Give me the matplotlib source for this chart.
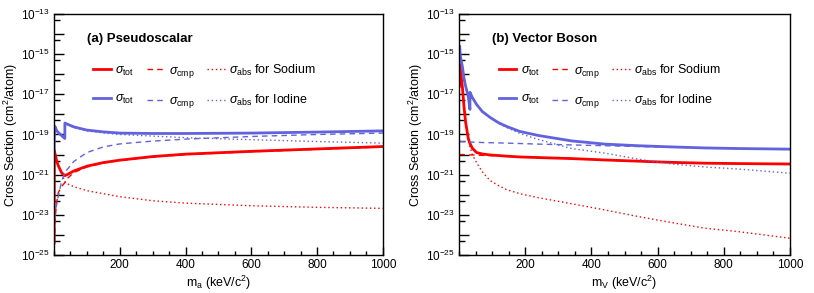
import numpy as np
import matplotlib
matplotlib.use("Agg")
import matplotlib.pyplot as plt
from matplotlib.ticker import FixedLocator, FixedFormatter, MultipleLocator

plt.rcParams['font.family'] = ['Liberation Sans', 'DejaVu Sans']
plt.rcParams['mathtext.fontset'] = 'custom'
plt.rcParams['mathtext.rm'] = 'Liberation Sans'
plt.rcParams['mathtext.it'] = 'Liberation Sans:italic'
plt.rcParams['mathtext.bf'] = 'Liberation Sans:bold'

RED = '#ff0000'
BLUE = '#6262de'

# ---- (a) pseudoscalar : masses (keV) and log10 of cross sections (cm^2/atom)
m_a = [0.5, 1, 3, 8, 13, 23, 33, 33.2, 40, 60, 100, 150, 200, 300, 400, 600, 800, 1000]
na_tot_a = [-24.4, -19.8, -19.95, -20.3, -20.55, -20.9, -21.05, -21.05, -21.0, -20.82, -20.58, -20.4, -20.28, -20.1, -19.98, -19.84, -19.72, -19.6]
na_cmp_a = [-24.9, -24.6, -23.3, -22.4, -21.9, -21.6, -21.4, -21.4, -21.2, -20.9, -20.62, -20.42, -20.3, -20.12, -20.0, -19.86, -19.74, -19.62]
na_abs_a = [-24.4, -19.8, -19.95, -20.3, -20.55, -20.9, -21.35, -21.35, -21.45, -21.6, -21.8, -21.95, -22.1, -22.3, -22.42, -22.55, -22.63, -22.68]
i_tot_a = [-19.8, -19.1, -18.6, -18.8, -18.9, -19.05, -19.2, -18.43, -18.48, -18.62, -18.78, -18.87, -18.93, -18.95, -18.95, -18.93, -18.88, -18.82]
i_cmp_a = [-24.1, -23.5, -22.9, -22.5, -22.1, -21.35, -20.9, -20.9, -20.75, -20.35, -19.9, -19.62, -19.47, -19.33, -19.23, -19.1, -19.0, -18.93]
i_abs_a = [-19.8, -19.1, -18.6, -18.8, -18.9, -19.06, -19.22, -18.45, -18.5, -18.65, -18.82, -18.92, -19.0, -19.08, -19.16, -19.26, -19.35, -19.43]

# ---- (b) vector boson
m_v = [1, 2, 4, 10, 15, 20, 28, 33, 33.2, 40, 53, 70, 94, 120, 144, 184, 240, 340, 441, 542, 643, 743, 844, 1000]
na_tot_v = [-16.6, -15.5, -15.7, -16.6, -17.6, -18.4, -19.2, -19.45, -19.45, -19.68, -19.9, -19.97, -20.02, -20.05, -20.08, -20.12, -20.15, -20.2, -20.27, -20.33, -20.39, -20.43, -20.45, -20.47]
na_cmp_v = [-20.0, -20.0, -20.0, -20.0, -20.0, -20.01, -20.01, -20.02, -20.02, -20.02, -20.03, -20.04, -20.05, -20.07, -20.08, -20.12, -20.15, -20.2, -20.27, -20.33, -20.39, -20.43, -20.45, -20.47]
na_abs_v = [-16.6, -15.5, -15.7, -16.6, -17.6, -18.4, -19.25, -19.6, -19.6, -20.0, -20.4, -20.85, -21.3, -21.55, -21.75, -21.95, -22.15, -22.45, -22.76, -23.09, -23.39, -23.67, -23.84, -24.17]
i_tot_v = [-15.0, -14.6, -15.1, -15.6, -16.2, -16.6, -17.1, -17.75, -16.9, -17.15, -17.5, -17.85, -18.15, -18.42, -18.6, -18.85, -19.05, -19.32, -19.48, -19.56, -19.62, -19.67, -19.7, -19.73]
i_cmp_v = [-19.35, -19.35, -19.35, -19.36, -19.36, -19.37, -19.37, -19.38, -19.38, -19.38, -19.39, -19.4, -19.41, -19.42, -19.43, -19.45, -19.48, -19.52, -19.56, -19.6, -19.63, -19.67, -19.7, -19.75]
i_abs_v = [-15.0, -14.6, -15.1, -15.6, -16.2, -16.6, -17.1, -17.75, -16.9, -17.15, -17.5, -17.86, -18.17, -18.45, -18.65, -18.95, -19.25, -19.7, -19.93, -20.23, -20.47, -20.62, -20.72, -20.93]

panels = [
    ("(a) Pseudoscalar", r"m$_{\rm a}$ (keV/c$^{2}$)", m_a,
     na_tot_a, na_cmp_a, na_abs_a, i_tot_a, i_cmp_a, i_abs_a),
    ("(b) Vector Boson", r"m$_{\rm V}$ (keV/c$^{2}$)", m_v,
     na_tot_v, na_cmp_v, na_abs_v, i_tot_v, i_cmp_v, i_abs_v),
]

decades = list(range(-25, -12))

fig = plt.figure(figsize=(8.14, 2.93), dpi=100)
axes = [fig.add_axes([0.0663, 0.130, 0.404, 0.822]),
        fig.add_axes([0.5639, 0.130, 0.4066, 0.822])]

for ax, (title, xlab, m, nt, nc, na, it, ic, ia) in zip(axes, panels):
    m = np.array(m)
    p = lambda v: 10.0 ** np.array(v)
    h1, = ax.plot(m, p(nt), color=RED, lw=2.0, label=r"$\sigma_{\rm tot}$")
    h2, = ax.plot(m, p(nc), color=RED, lw=1.0, ls=(0, (4, 3)), label=r"$\sigma_{\rm cmp}$")
    h3, = ax.plot(m, p(na), color=RED, lw=1.0, ls=(0, (1, 2)), label=r"$\sigma_{\rm abs}$ for Sodium")
    h4, = ax.plot(m, p(it), color=BLUE, lw=2.0, label=r"$\sigma_{\rm tot}$")
    h5, = ax.plot(m, p(ic), color=BLUE, lw=1.0, ls=(0, (4, 3)), label=r"$\sigma_{\rm cmp}$")
    h6, = ax.plot(m, p(ia), color=BLUE, lw=1.0, ls=(0, (1, 2)), label=r"$\sigma_{\rm abs}$ for Iodine")

    ax.set_yscale('log')
    ax.set_xlim(0, 1000)
    ax.set_ylim(1e-25, 1e-13)

    ax.yaxis.set_major_locator(FixedLocator([10.0 ** d for d in decades]))
    ax.yaxis.set_major_formatter(FixedFormatter(
        [r"10$^{%d}$" % d if d % 2 else "" for d in decades]))
    ax.yaxis.set_minor_locator(FixedLocator([5 * 10.0 ** d for d in decades[:-1]]))
    ax.yaxis.set_minor_formatter(FixedFormatter([]))
    ax.xaxis.set_major_locator(FixedLocator([200, 400, 600, 800, 1000]))
    ax.xaxis.set_minor_locator(MultipleLocator(50))

    ax.tick_params(which='both', direction='in', labelsize=8.5, width=1)
    ax.tick_params(axis='y', which='major', length=7, pad=3)
    ax.tick_params(axis='y', which='minor', length=4)
    ax.tick_params(axis='x', which='major', length=6, pad=3)
    ax.tick_params(axis='x', which='minor', length=3)
    for s in ax.spines.values():
        s.set_linewidth(1.0)

    ax.set_ylabel("Cross Section (cm$^{2}$/atom)", fontsize=9, labelpad=0.5)
    ax.set_xlabel(xlab, fontsize=9, labelpad=2)

    ax.text(0.10, 0.895, title, transform=ax.transAxes, fontsize=9.5,
            fontweight='bold', va='center', ha='left')

    ax.legend([h1, h4, h2, h5, h3, h6],
              [h.get_label() for h in (h1, h4, h2, h5, h3, h6)],
              ncol=3, frameon=False, loc='upper left',
              bbox_to_anchor=(0.105, 0.82), fontsize=9,
              handlelength=1.4, handletextpad=0.35,
              columnspacing=1.0, labelspacing=1.25, borderaxespad=0)

fig.savefig("out.png", dpi=100)
